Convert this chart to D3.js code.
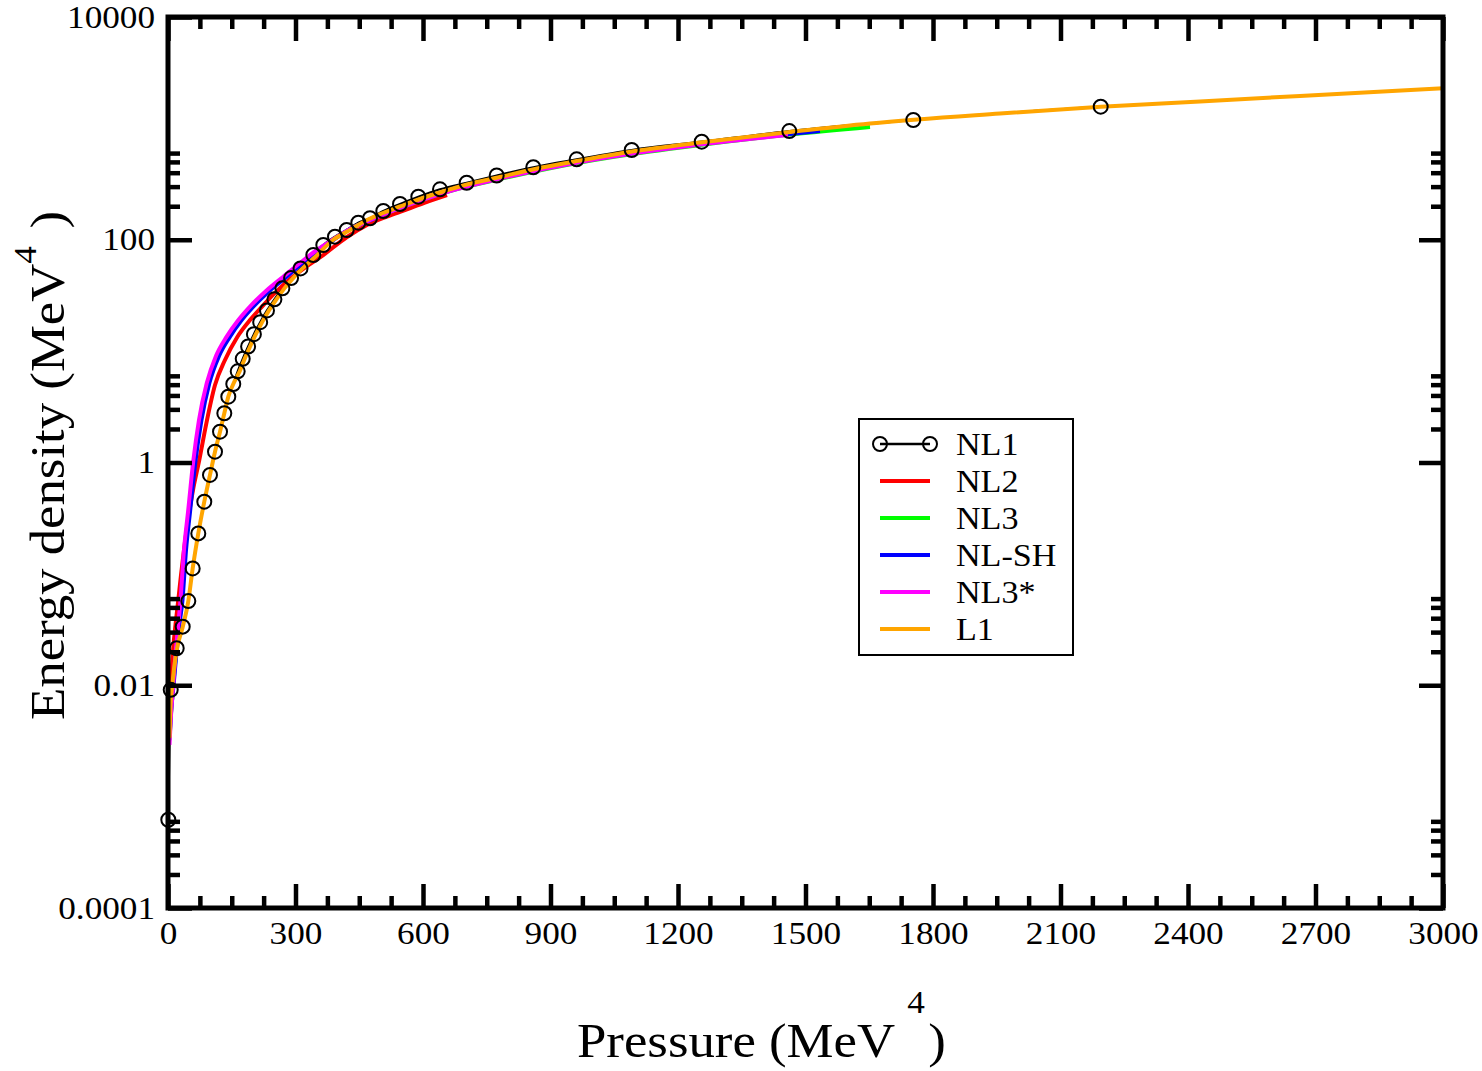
<!DOCTYPE html>
<html>
<head>
<meta charset="utf-8">
<script src="https://cdn.jsdelivr.net/npm/d3@7"></script>
<style>
  html, body { margin: 0; padding: 0; background: #fff; }
  svg text { font-family: 'Liberation Serif', 'Times New Roman', serif; fill: #000; }
</style>
</head>
<body>
<svg id="chart" width="1482" height="1071"></svg>
<script>
// pressure (x) / energy density (y)
const nl1X = [0.7, 6.4, 20.5, 34.6, 47.8, 58.1, 71.3, 85.4, 98.8, 110.6, 122.4, 132.5, 141.9, 153.6, 164.0, 175.8, 188.5, 202.1, 216.9, 232.9, 250.4, 269.2, 289.6, 311.8, 341.9, 365.4, 392.9, 420.5, 447.8, 475.3, 506.6, 545.9, 589.0, 640.0, 702.8, 773.4, 859.5, 961.6, 1091.1, 1255.8, 1461.9, 1753.6, 2194.6]
const nl1Y = [6.2e-4, 0.0091, 0.0215, 0.0336, 0.057, 0.112, 0.231, 0.445, 0.773, 1.25, 1.89, 2.77, 3.90, 5.07, 6.59, 8.53, 11.0, 14.2, 18.2, 23.2, 29.2, 36.6, 45.3, 55.3, 73.0, 89.7, 106.5, 122.4, 142.3, 155.9, 181.2, 209.5, 243.6, 283.8, 325.1, 377.6, 447.7, 527.3, 639.7, 759, 946, 1189, 1566]

const nl2X = [4.7, 6.4, 9.4, 12.5, 17.6, 24.2, 30.6, 37.6, 47.1, 58.8, 73.6, 89.4, 110.6, 134.1, 163.1, 192.9, 221.2, 254.1, 287.1, 322.4, 357.6, 421.2, 468.2, 545.9, 604.7, 656.5]
const nl2Y = [0.00665, 0.00964, 0.0152, 0.0221, 0.0347, 0.0583, 0.0977, 0.1638, 0.3046, 0.566, 1.053, 2.17, 4.96, 8.32, 13.4, 19.0, 25.1, 34.0, 44.4, 56.3, 69.3, 105.8, 135.6, 177.5, 216, 252.2]

const nl3X = [3.5, 7.1, 12.2, 17.6, 24.7, 31.8, 40.0, 49.4, 62.4, 76.0, 94.1, 116.5, 141.9, 168.5, 196.7, 234.4, 275.3, 313.4, 352.0, 389.4, 428.2, 468.2, 545.9, 663.5, 781.2, 969.4, 1134.1, 1251.8, 1463.5, 1651.8]
const nl3Y = [0.00322, 0.00552, 0.00964, 0.0172, 0.0327, 0.0583, 0.1638, 0.359, 1.031, 2.41, 5.14, 9.04, 13.5, 18.83, 25.1, 34.7, 46.6, 61.8, 80.9, 100.5, 124.9, 145.8, 192.8, 274, 351, 494, 620, 709, 881, 1029]

const nlshX = [3.5, 7.1, 12.9, 18.8, 25.9, 34.1, 42.4, 51.8, 64.7, 78.8, 97.2, 120.0, 145.9, 172.5, 200.7, 238.4, 279.3, 316.5, 354.1, 390.6, 428.2, 468.2, 545.9, 663.5, 781.2, 969.4, 1134.1, 1251.8, 1392.9, 1534.1]
const nlshY = [0.00336, 0.00575, 0.00984, 0.01757, 0.0327, 0.0583, 0.1638, 0.359, 1.031, 2.41, 5.14, 9.04, 13.5, 18.83, 25.1, 34.7, 46.6, 61.8, 80.9, 100.5, 124.9, 145.8, 194.8, 276.9, 358.4, 504.2, 632.9, 724, 836.6, 947]

const nl3sX = [3.5, 7.1, 11.8, 16.5, 23.5, 29.4, 37.6, 47.1, 59.5, 72.9, 91.1, 112.9, 138.1, 164.7, 192.9, 230.6, 271.3, 310.6, 349.9, 388.2, 428.2, 468.2, 545.9, 663.5, 781.2, 969.4, 1134.1, 1251.8, 1458.8]
const nl3sY = [0.00291, 0.0054, 0.00944, 0.01685, 0.0327, 0.0583, 0.1638, 0.359, 1.031, 2.41, 5.14, 9.04, 13.5, 18.83, 25.1, 34.7, 46.6, 61.8, 80.9, 100.5, 124.9, 145.8, 192.8, 274, 354.6, 499, 626, 716.5, 872]

const l1X = [3.5, 5.9, 9.4, 20.5, 34.6, 47.8, 58.1, 71.3, 85.4, 98.8, 110.6, 122.4, 132.5, 141.9, 153.6, 168.7, 180.5, 193.2, 206.8, 221.6, 237.6, 255.1, 273.9, 294.4, 316.5, 345.9, 388.2, 428.2, 468.2, 505.9, 545.9, 592.9, 647.1, 703.5, 781.2, 863.5, 969.4, 1091.8, 1251.8, 1463.5, 1651.8, 1957.6, 2195.3, 2428.2, 2663.5, 3000]
const l1Y = [0.00336, 0.00665, 0.00944, 0.0207, 0.0333, 0.057, 0.112, 0.231, 0.445, 0.773, 1.25, 1.89, 2.77, 3.90, 5.07, 6.59, 8.53, 11.0, 14.2, 18.2, 23.2, 29.2, 36.6, 45.3, 55.3, 70.0, 99.5, 122.3, 150.4, 173.9, 198.9, 232.2, 271.2, 313.3, 365.9, 431.8, 514.6, 619.9, 746.7, 927.7, 1106, 1360, 1565, 1747, 1953, 2290]

const seriesNames = ['NL1', 'NL2', 'NL3', 'NL-SH', 'NL3*', 'L1']
const seriesColors = ['#000000', '#ff0000', '#00ff00', '#0000ff', '#ff00ff', '#ffa500']

const xTickValues = [0, 300, 600, 900, 1200, 1500, 1800, 2100, 2400, 2700, 3000]
const xTickLabels = ['0', '300', '600', '900', '1200', '1500', '1800', '2100', '2400', '2700', '3000']
const yTickValues = [1e-4, 1e-2, 1, 1e2, 1e4]
const yTickLabels = ['0.0001', '0.01', '1', '100', '10000']

const width = 1482
const height = 1071
const margin = { top: 17, right: 39, bottom: 163, left: 168 }
const stretch = 1.1 // the original type is a bit wide

const svg = d3.select('#chart')

const x = d3.scaleLinear().domain([0, 3000]).range([margin.left, width - margin.right])
const y = d3.scaleLog().domain([1e-4, 1e4]).range([height - margin.bottom, margin.top])

const x0 = x.range()[0], x1 = x.range()[1]
const y0 = y.range()[0], y1 = y.range()[1]

// minor ticks: 3 between x majors, 2..6 x each y major
const xMinor = d3.range(0, 3001, 75).filter(v => v % 300 !== 0)
const yMinor = []
yTickValues.slice(0, -1).forEach(m => { for (let k = 2; k <= 6; k++) yMinor.push(m * k) })

function tidy(g, w) {
  g.select('.domain').remove()
  g.selectAll('.tick line').attr('stroke', '#000').attr('stroke-width', w)
  g.attr('font-family', null).attr('font-size', null)
}

svg.append('clipPath').attr('id', 'plotClip')
  .append('rect').attr('x', x0).attr('y', y1).attr('width', x1 - x0).attr('height', y0 - y1)

// curves
const line = d3.line()
  .x(d => x(d[0]))
  .y(d => y(d[1]))
  .curve(d3.curveMonotoneX)

const allX = [nl1X, nl2X, nl3X, nlshX, nl3sX, l1X]
const allY = [nl1Y, nl2Y, nl3Y, nlshY, nl3sY, l1Y]
const series = seriesNames.map((name, i) => ({
  name,
  color: seriesColors[i],
  points: allX[i].map((v, j) => [v, allY[i][j]])
}))

const curves = svg.append('g').attr('clip-path', 'url(#plotClip)')
curves.selectAll('path')
  .data(series)
  .enter()
  .append('path')
  .attr('d', d => line(d.points))
  .attr('fill', 'none')
  .attr('stroke', d => d.color)
  .attr('stroke-width', d => d.name === 'NL1' ? 2.2 : 4)
  .attr('stroke-linejoin', 'round')

// NL1 markers
svg.append('g')
  .selectAll('circle')
  .data(series[0].points)
  .enter()
  .append('circle')
  .attr('cx', d => x(d[0]))
  .attr('cy', d => y(d[1]))
  .attr('r', 7)
  .attr('fill', 'none')
  .attr('stroke', '#000')
  .attr('stroke-width', 2)

// frame
svg.append('rect')
  .attr('x', x0).attr('y', y1)
  .attr('width', x1 - x0).attr('height', y0 - y1)
  .attr('fill', 'none').attr('stroke', '#000').attr('stroke-width', 5)

// axes, ticks pointing inward on all four sides
const bottom = svg.append('g').attr('transform', `translate(0,${y0})`)
  .call(d3.axisBottom(x).tickValues(xTickValues).tickSize(-24).tickPadding(13)
    .tickFormat(d => xTickLabels[xTickValues.indexOf(d)]))
tidy(bottom, 4.5)
bottom.selectAll('text').attr('font-size', 32).attr('transform', `scale(${stretch},1)`)

svg.append('g').attr('transform', `translate(0,${y0})`)
  .call(d3.axisBottom(x).tickValues(xMinor).tickSize(-12).tickFormat(''))
  .call(g => tidy(g, 4.5))
svg.append('g').attr('transform', `translate(0,${y1})`)
  .call(d3.axisTop(x).tickValues(xTickValues).tickSize(-24).tickFormat(''))
  .call(g => tidy(g, 4.5))
svg.append('g').attr('transform', `translate(0,${y1})`)
  .call(d3.axisTop(x).tickValues(xMinor).tickSize(-12).tickFormat(''))
  .call(g => tidy(g, 4.5))

const left = svg.append('g').attr('transform', `translate(${x0},0)`)
  .call(d3.axisLeft(y).tickValues(yTickValues).tickSize(-24).tickPadding(13)
    .tickFormat(d => yTickLabels[yTickValues.indexOf(d)]))
tidy(left, 4.5)
left.selectAll('text').attr('font-size', 32)
  .attr('x', -13 / stretch)
  .attr('transform', `scale(${stretch},1)`)

svg.append('g').attr('transform', `translate(${x0},0)`)
  .call(d3.axisLeft(y).tickValues(yMinor).tickSize(-12).tickFormat(''))
  .call(g => tidy(g, 4.5))
svg.append('g').attr('transform', `translate(${x1},0)`)
  .call(d3.axisRight(y).tickValues(yTickValues).tickSize(-24).tickFormat(''))
  .call(g => tidy(g, 4.5))
svg.append('g').attr('transform', `translate(${x1},0)`)
  .call(d3.axisRight(y).tickValues(yMinor).tickSize(-12).tickFormat(''))
  .call(g => tidy(g, 4.5))

// axis titles
const xTitle = svg.append('text')
  .attr('transform', `translate(577,1057) scale(${stretch},1)`)
  .attr('font-size', 48)
xTitle.append('tspan').text('Pressure (MeV ')
xTitle.append('tspan').attr('font-size', 32).attr('dy', -44).text('4')
xTitle.append('tspan').attr('dy', 44).attr('dx', 3).text(')')

const yTitle = svg.append('text')
  .attr('transform', `translate(64,720) rotate(-90) scale(${stretch},1)`)
  .attr('font-size', 48)
yTitle.append('tspan').text('Energy density (MeV')
yTitle.append('tspan').attr('font-size', 32).attr('dy', -28).text('4')
yTitle.append('tspan').attr('dy', 28).attr('dx', 16).text(')')

// legend
const legend = svg.append('g').attr('transform', 'translate(859,419)')
legend.append('rect')
  .attr('width', 214).attr('height', 236)
  .attr('fill', '#fff').attr('stroke', '#000').attr('stroke-width', 2)

seriesNames.forEach((name, i) => {
  const ly = 25 + i * 37
  legend.append('line')
    .attr('x1', 21).attr('x2', 71).attr('y1', ly).attr('y2', ly)
    .attr('stroke', seriesColors[i]).attr('stroke-width', name === 'NL1' ? 2.5 : 4)
  if (i === 0) {
    [21, 71].forEach(cx => {
      legend.append('circle').attr('cx', cx).attr('cy', ly).attr('r', 7)
        .attr('fill', 'none').attr('stroke', '#000').attr('stroke-width', 2)
    })
  }
  legend.append('text')
    .attr('transform', `translate(97,${ly + 11}) scale(${stretch},1)`)
    .attr('font-size', 31)
    .text(name)
})
</script>
</body>
</html>
